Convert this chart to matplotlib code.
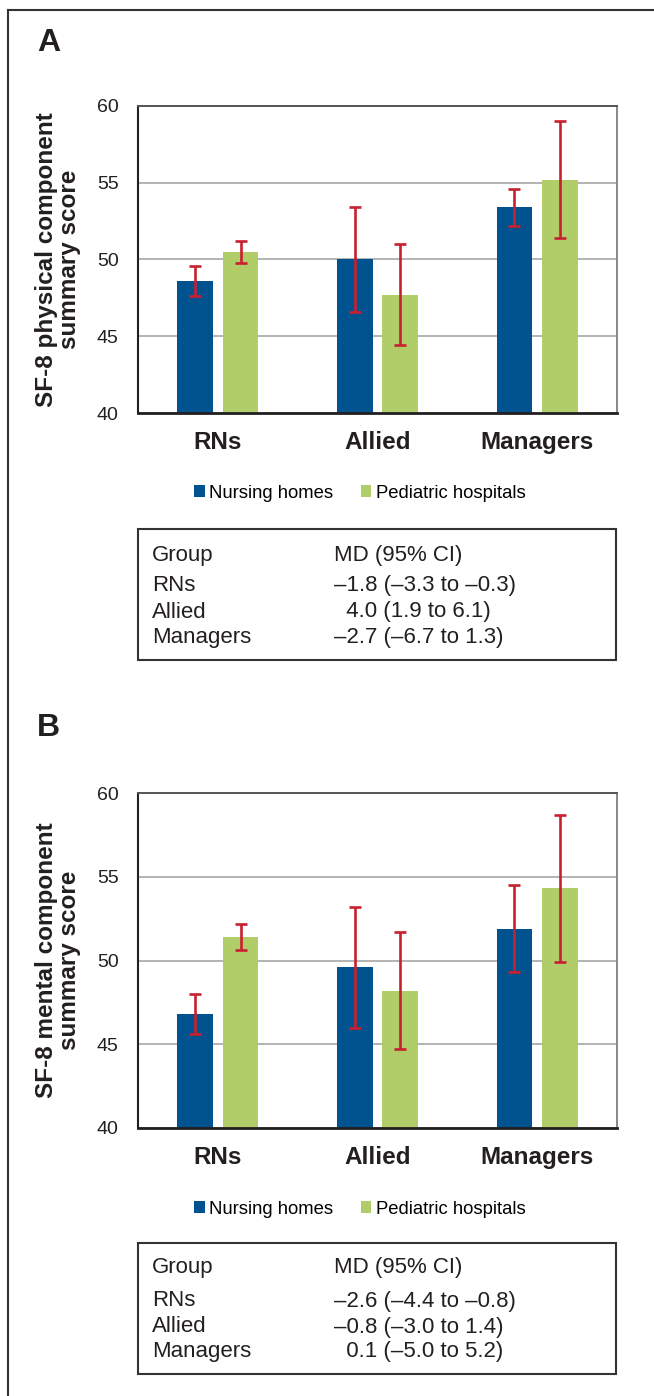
import matplotlib.pyplot as plt
from matplotlib.patches import Rectangle
from matplotlib.lines import Line2D

plt.rcParams['font.family'] = ['Liberation Sans', 'DejaVu Sans']

groups = ['RNs', 'Allied', 'Managers']
series = ['Nursing homes', 'Pediatric hospitals']

# panel A - physical component
phys_nh = [48.6, 50.0, 53.4]
phys_nh_lo = [47.6, 46.6, 52.2]
phys_nh_hi = [49.6, 53.4, 54.6]
phys_ph = [50.5, 47.7, 55.2]
phys_ph_lo = [49.8, 44.4, 51.4]
phys_ph_hi = [51.2, 51.0, 59.0]

# panel B - mental component
ment_nh = [46.8, 49.6, 51.9]
ment_nh_lo = [45.6, 46.0, 49.3]
ment_nh_hi = [48.0, 53.2, 54.5]
ment_ph = [51.4, 48.2, 54.3]
ment_ph_lo = [50.6, 44.7, 49.9]
ment_ph_hi = [52.2, 51.7, 58.7]

# mean difference tables
table_head = ['Group', 'MD (95% CI)']
table_a = ['\u20131.8 (\u20133.3 to \u20130.3)', '  4.0 (1.9 to 6.1)', '\u20132.7 (\u20136.7 to 1.3)']
table_b = ['\u20132.6 (\u20134.4 to \u20130.8)', '\u20130.8 (\u20133.0 to 1.4)', '  0.1 (\u20135.0 to 5.2)']

blue = '#00538f'
green = '#b1cd6a'
red = '#c8202f'

W, H = 654, 1396
fig = plt.figure(figsize=(W / 100, H / 100), dpi=100)


def fx(px):
    return px / W


def fy(py):
    return 1 - py / H


def panel(top, bottom, nh, nh_lo, nh_hi, ph, ph_lo, ph_hi, ylabel, letter,
          letter_y, legend_y, box_top, box_bottom, rows_y, md):
    ax = fig.add_axes([fx(138), fy(bottom), fx(617) - fx(138), fy(top) - fy(bottom)])
    x = range(len(groups))
    w = 0.2235
    off = 0.142
    xa = [i - off for i in x]
    xb = [i + off for i in x]
    ax.bar(xa, nh, width=w, color=blue, label=series[0], zorder=2)
    ax.bar(xb, ph, width=w, color=green, label=series[1], zorder=2)
    err_nh = [[v - lo for v, lo in zip(nh, nh_lo)], [hi - v for v, hi in zip(nh, nh_hi)]]
    err_ph = [[v - lo for v, lo in zip(ph, ph_lo)], [hi - v for v, hi in zip(ph, ph_hi)]]
    ax.errorbar(xa, nh, yerr=err_nh, fmt='none', ecolor=red, elinewidth=1.9,
                capsize=4.3, capthick=1.9, zorder=3)
    ax.errorbar(xb, ph, yerr=err_ph, fmt='none', ecolor=red, elinewidth=1.9,
                capsize=4.3, capthick=1.9, zorder=3)
    ax.set_xlim(-0.5, 2.5)
    ax.set_ylim(40, 60)
    ax.set_yticks([40, 45, 50, 55, 60])
    ax.grid(axis='y', color='#b3b3b3', linewidth=1.4, zorder=0)
    ax.set_axisbelow(True)
    ax.set_xticks(list(x))
    ax.set_xticklabels(groups, fontsize=17.5, fontweight='bold', color='#231f20')
    ax.tick_params(axis='x', length=0, pad=13)
    ax.tick_params(axis='y', length=0, pad=14, labelsize=14, labelcolor='#231f20')
    ax.spines['left'].set_color('#231f20')
    ax.spines['bottom'].set_color('#231f20')
    ax.spines['left'].set_linewidth(1.5)
    ax.spines['bottom'].set_linewidth(2)
    ax.spines['top'].set_color('#555555')
    ax.spines['right'].set_color('#888888')
    ax.spines['top'].set_linewidth(1.4)
    ax.spines['right'].set_linewidth(1.4)

    fig.text(fx(58), fy((top + bottom) / 2), ylabel, rotation=90, ha='center', va='center',
             multialignment='center', fontsize=17.5, fontweight='bold', color='#231f20',
             linespacing=1.05)
    fig.text(fx(37), fy(letter_y), letter, ha='left', va='center', fontsize=23,
             fontweight='bold', color='#231f20')

    ax.legend(loc='center', bbox_to_anchor=((360 - 138) / 479, (bottom - legend_y) / (bottom - top)),
              ncol=2, frameon=False, fontsize=13.3, handlelength=0.55, handleheight=0.55,
              handletextpad=0.25, columnspacing=1.5, borderpad=0)

    fig.patches.append(Rectangle((fx(138), fy(box_bottom)), fx(616) - fx(138),
                                 fy(box_top) - fy(box_bottom), transform=fig.transFigure,
                                 fill=False, edgecolor='#333333', linewidth=1.5))
    col1 = [table_head[0]] + groups
    col2 = [table_head[1]] + md
    for yy, a, b in zip(rows_y, col1, col2):
        fig.text(fx(152), fy(yy), a, ha='left', va='center', fontsize=16, color='#231f20')
        fig.text(fx(334), fy(yy), b, ha='left', va='center', fontsize=16, color='#231f20')
    return ax


panel(106, 413, phys_nh, phys_nh_lo, phys_nh_hi, phys_ph, phys_ph_lo, phys_ph_hi,
      'SF-8 physical component\nsummary score', 'A', 43, 493, 529, 660,
      [555, 586, 612, 638], table_a)
panel(793, 1128, ment_nh, ment_nh_lo, ment_nh_hi, ment_ph, ment_ph_lo, ment_ph_hi,
      'SF-8 mental component\nsummary score', 'B', 728, 1209, 1243, 1374,
      [1267, 1301, 1327, 1352], table_b)

# outer frame (left and top edges)
fig.lines.append(Line2D([fx(8), fx(8)], [fy(10), 0], transform=fig.transFigure,
                        color='#333333', linewidth=1.5))
fig.lines.append(Line2D([fx(8), 1], [fy(10), fy(10)], transform=fig.transFigure,
                        color='#333333', linewidth=1.5))

plt.savefig('out.png', dpi=100)
